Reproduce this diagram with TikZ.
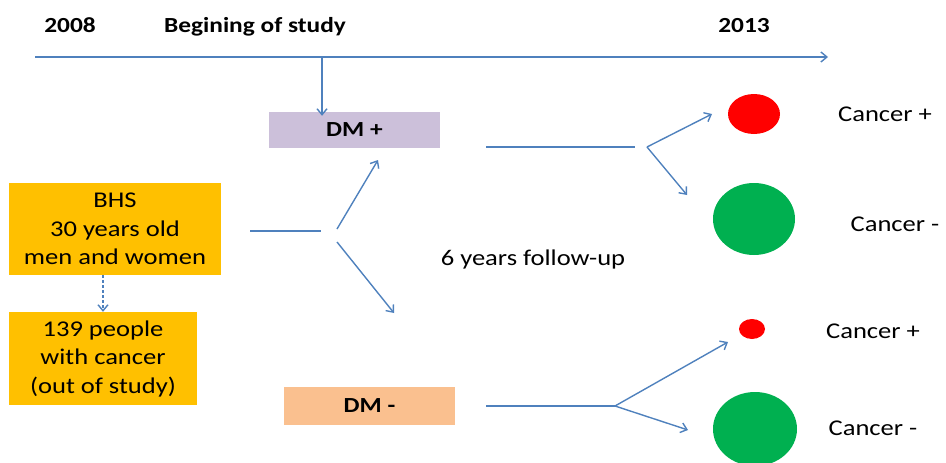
\documentclass[tikz,border=0pt]{standalone}
\usepackage{fontspec}
\setmainfont{Carlito}[FakeStretch=1.18]
\usetikzlibrary{arrows.meta,shapes.geometric}
\definecolor{lineblue}{RGB}{79,129,189}
\definecolor{bhsyellow}{RGB}{255,192,0}
\definecolor{dmplus}{RGB}{204,192,218}
\definecolor{dmminus}{RGB}{250,192,143}
\definecolor{canred}{RGB}{255,0,0}
\definecolor{cangreen}{RGB}{0,176,80}
\tikzset{
	link/.style={draw=lineblue, line width=1.4pt},
	arr/.style={link, -{Straight Barb[length=6pt,width=10pt]}},
	box/.style={rectangle, inner sep=0pt, align=center, text=black},
	dot/.style={ellipse, inner sep=0pt},
	lbl/.style={inner sep=0pt, anchor=base},
	head/.style={lbl, font=\fontsize{21.5}{28}\selectfont\bfseries},
}

\begin{document}
\begin{tikzpicture}[x=1pt, y=-1pt, font=\fontsize{22.5}{28.5}\selectfont]
				\useasboundingbox (0,0) rectangle (946,463);
				
				% time line
				\coordinate (t0) at (35,57);
				\coordinate (t1) at (828,57);
				\coordinate (tstart) at (322,57);
				\draw[arr] (t0) -- (t1);
				\node[head] (y2008) at (70,32) {2008};
				\node[head] (begin) at (255,32) {Begining of study};
				\node[head] (y2013) at (744,32) {2013};
				
				% boxes
				\node[box, fill=bhsyellow, minimum width=212pt, minimum height=92pt] (bhs) at (115,229) {BHS\\30 years old\\men and women};
				\node[box, fill=bhsyellow, minimum width=188pt, minimum height=93pt] (excl) at (103,358.5) {139 people\\with cancer\\(out of study)};
				\node[box, fill=dmplus, minimum width=171pt, minimum height=36pt, font=\fontsize{21.5}{28}\selectfont\bfseries] (dmp) at (354.5,130) {DM +};
				\node[box, fill=dmminus, minimum width=171pt, minimum height=38pt, font=\fontsize{21.5}{28}\selectfont\bfseries] (dmm) at (369.5,406) {DM -};
				
				\draw[arr, dash pattern=on 3pt off 2pt] (bhs.south -| excl.north) -- (excl.north);
				\draw[arr] (tstart) -- ([yshift=-4pt]dmp.north -| tstart);
				
				% split into DM groups
				\coordinate (s0) at (250,231);
				\coordinate (s1) at (321,231);
				\coordinate (su) at (337,229);
				\coordinate (sd) at (337,242);
				\coordinate (su1) at (378,160);
				\coordinate (sd1) at (394,313);
				\draw[link] (s0) -- (s1);
				\draw[arr] (su) -- (su1);
				\draw[arr] (sd) -- (sd1);
				\node[lbl] (follow) at (533,265) {6 years follow-up};
				
				% outcomes
				\node[dot, fill=canred, minimum width=52pt, minimum height=40pt] (cp1) at (754,114) {};
				\node[dot, fill=cangreen, minimum width=82pt, minimum height=72pt] (cm1) at (754,219) {};
				\node[dot, fill=canred, minimum width=26pt, minimum height=20pt] (cp2) at (752,329) {};
				\node[dot, fill=cangreen, minimum width=84pt, minimum height=74pt] (cm2) at (755,429) {};
				\node[lbl] (lcp1) at (885,121) {Cancer +};
				\node[lbl] (lcm1) at (895,231) {Cancer -};
				\node[lbl] (lcp2) at (873,338) {Cancer +};
				\node[lbl] (lcm2) at (873,435) {Cancer -};
				
				\coordinate (p0) at (486,147);
				\coordinate (p1) at (635,147);
				\coordinate (pv) at (647,147);
				\coordinate (pu) at (712,114);
				\coordinate (pd) at (687,195);
				\draw[link] (p0) -- (p1);
				\draw[arr] (pv) -- (pu);
				\draw[arr] (pv) -- (pd);
				
				\coordinate (m0) at (486,406);
				\coordinate (mv) at (615,406);
				\coordinate (mu) at (728,342);
				\coordinate (md) at (688,430);
				\draw[link] (m0) -- (mv);
				\draw[arr] (mv) -- (mu);
				\draw[arr] (mv) -- (md);
			\end{tikzpicture}
\end{document}
